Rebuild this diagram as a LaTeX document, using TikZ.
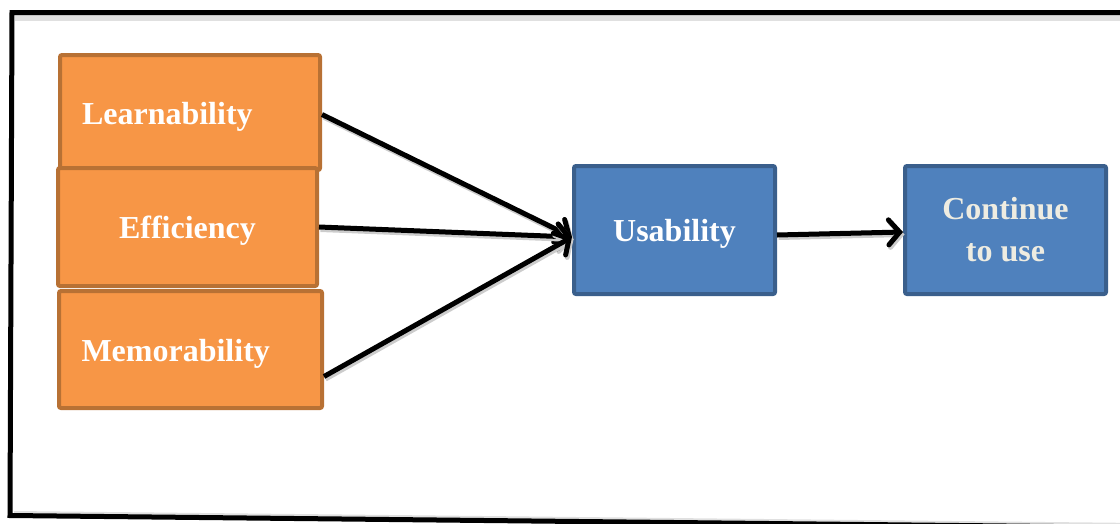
\documentclass[tikz,border=0pt]{standalone}
\usepackage{fontspec}
\setmainfont{Liberation Serif}
\usetikzlibrary{arrows.meta}

\definecolor{orangefill}{HTML}{F79646}
\definecolor{orangeedge}{HTML}{B87134}
\definecolor{bluefill}{HTML}{4F81BD}
\definecolor{blueedge}{HTML}{3A5F8C}
\definecolor{cream}{HTML}{EEECE1}

\begin{document}
\begin{tikzpicture}[x=1pt,y=-1pt]
\tikzstyle{every node}+=[inner sep=0pt, font=\fontsize{32}{42}\selectfont\bfseries]
\tikzstyle{oneline}=[text height=30pt, text depth=7pt]
\tikzstyle{factor}=[draw=orangeedge, fill=orangefill, line width=4pt, rounded corners=2pt, text=white, oneline]
\tikzstyle{outcome}=[draw=blueedge, fill=bluefill, line width=4pt, rounded corners=2pt, minimum width=201, minimum height=128]
\tikzstyle{flow}=[line width=5pt, -{Straight Barb[length=11pt, width=25pt, line cap=round]},
  preaction={draw=black!20, line width=5pt, transform canvas={shift={(1.5pt,-2.5pt)}}}]
\useasboundingbox (0,0) rectangle (1120,523);
\clip (0,0) rectangle (1120,523);
% outer frame
\draw [black!12, line width=6pt] (15,18) -- (1140,18);
\draw [black!12, line width=4pt] (14,513) -- (1140,525);
\draw [black, line width=5pt] (1140,12.5) -- (12,12.5) -- (10,515.5) -- (1140,527.4);
% factors
\node [factor, minimum width=260, minimum height=115, text width=216, align=left] (learn) at (190,112.5) {Learnability};
\node [factor, minimum width=259, minimum height=118, align=center] (eff) at (187.5,227) {Efficiency};
\node [factor, minimum width=263, minimum height=117, text width=218, align=left] (mem) at (190.5,349.5) {Memorability};
% outcomes
\node [outcome, oneline, text=white] (usab) at (674.5,230) {Usability};
\node [outcome, text=cream, align=center] (cont) at (1005.5,230) {Continue\\to use};
% arrows
\draw [flow] ([yshift=-2pt]learn.east) -- ([yshift=-7pt]usab.west);
\draw [flow] (eff.east) -- ([yshift=-7pt]usab.west);
\draw [flow] ([yshift=-27pt]mem.east) -- ([yshift=-7pt]usab.west);
\draw [flow] ([yshift=-5pt]usab.east) -- ([yshift=-2pt]cont.west);
\end{tikzpicture}
\end{document}
